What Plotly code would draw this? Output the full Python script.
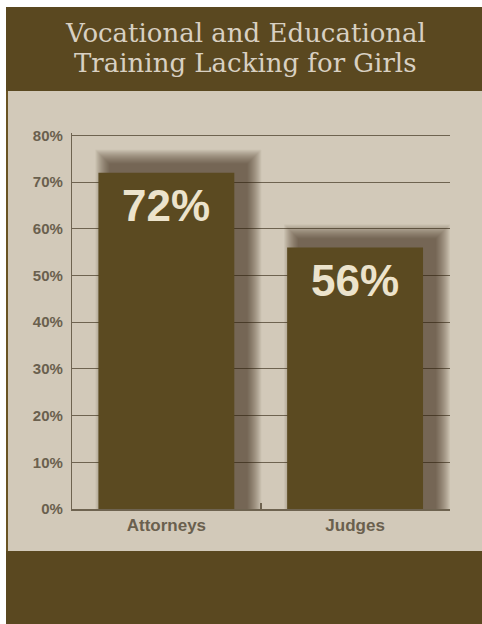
import plotly.graph_objects as go

# ---- data ----
categories = ["Attorneys", "Judges"]
values = [72, 56]
value_labels = ["72%", "56%"]
title_lines = ["Vocational and Educational", "Training Lacking for Girls"]
y_ticks = [0, 10, 20, 30, 40, 50, 60, 70, 80]
y_max = 80.5

# ---- geometry helpers (pixels -> paper) ----
W, H = 482, 624
ML, MR, MT, MB = 72, 32, 133, 115
PW, PH = W - ML - MR, H - MT - MB


def px(xp):
    return (xp - ML) / PW


def py(yp):
    return (H - MB - yp) / PH


BROWN = "#5a4820"
BEIGE = "#d2c9b9"
BAR = "#5b4a21"
GRID = "#6e6350"
TICK = "#6a604e"

fig = go.Figure()

# soft shadow behind bars (layered translucent bars), offset up/right
bar_w = 0.72
xpx_per_unit = PW / 2.0
ypx_per_unit = PH / y_max
dx, dy = 12, 8
for e in range(15, 0, -1):
    fig.add_trace(go.Bar(
        x=categories,
        y=[v + (dy + e) / ypx_per_unit for v in values],
        width=[bar_w + 2 * e / xpx_per_unit] * len(values),
        offset=[-bar_w / 2 - e / xpx_per_unit + dx / xpx_per_unit] * len(values),
        marker=dict(color="rgba(60,44,10,0.055)", line=dict(width=0)),
        hoverinfo="skip", showlegend=False,
    ))

fig.add_trace(go.Bar(
    x=categories, y=values, width=bar_w,
    marker=dict(color=BAR, line=dict(width=0)),
    showlegend=False,
))

# value labels inside bars
for c, v, t in zip(categories, values, value_labels):
    fig.add_annotation(
        x=c, y=v, text=t, showarrow=False, yanchor="middle", yshift=-33,
        font=dict(family="Liberation Sans, Arial, sans-serif", size=44,
                  color="#ece3cc", weight="bold"),
    )

# background panels
shapes = [
    dict(type="rect", xref="paper", yref="paper", x0=px(6), x1=px(W), y0=py(91), y1=py(7),
         fillcolor=BROWN, line=dict(width=0), layer="below"),
    dict(type="rect", xref="paper", yref="paper", x0=px(6), x1=px(W), y0=py(551), y1=py(91),
         fillcolor=BEIGE, line=dict(width=0), layer="below"),
    dict(type="rect", xref="paper", yref="paper", x0=px(6), x1=px(8), y0=py(551), y1=py(91),
         fillcolor="#6a5424", line=dict(width=0), layer="below"),
    dict(type="rect", xref="paper", yref="paper", x0=px(6), x1=px(W), y0=py(H), y1=py(551),
         fillcolor=BROWN, line=dict(width=0), layer="below"),
]

# title lines
for i, line in enumerate(title_lines):
    fig.add_annotation(
        xref="paper", yref="paper", x=px(245), y=py(32.5 + 31 * i),
        text=line, showarrow=False, xanchor="center", yanchor="middle",
        font=dict(family="DejaVu Serif, serif", size=26, color="#d8d0c2"),
    )

fig.update_layout(
    width=W, height=H,
    margin=dict(l=ML, r=MR, t=MT, b=MB, pad=0),
    paper_bgcolor="white", plot_bgcolor="rgba(0,0,0,0)",
    barmode="overlay",
    shapes=shapes,
    showlegend=False,
)
fig.update_xaxes(
    showline=True, linecolor=GRID, linewidth=1.5,
    ticks="inside", tickson="boundaries", ticklen=6, tickcolor=GRID, tickwidth=1.5,
    tickfont=dict(family="Liberation Sans, Arial, sans-serif", size=17, color=TICK, weight="bold"),
    showgrid=False, fixedrange=True,
)
fig.update_yaxes(
    range=[0, y_max], tickvals=y_ticks, ticktext=[f"{t}%" for t in y_ticks],
    showline=True, linecolor=GRID, linewidth=1.3,
    showgrid=True, gridcolor=GRID, gridwidth=1.3, zeroline=False,
    ticks="", ticklabelstandoff=5,
    tickfont=dict(family="Liberation Sans, Arial, sans-serif", size=15, color=TICK, weight="bold"),
    fixedrange=True,
)

fig.write_html("out.html")
